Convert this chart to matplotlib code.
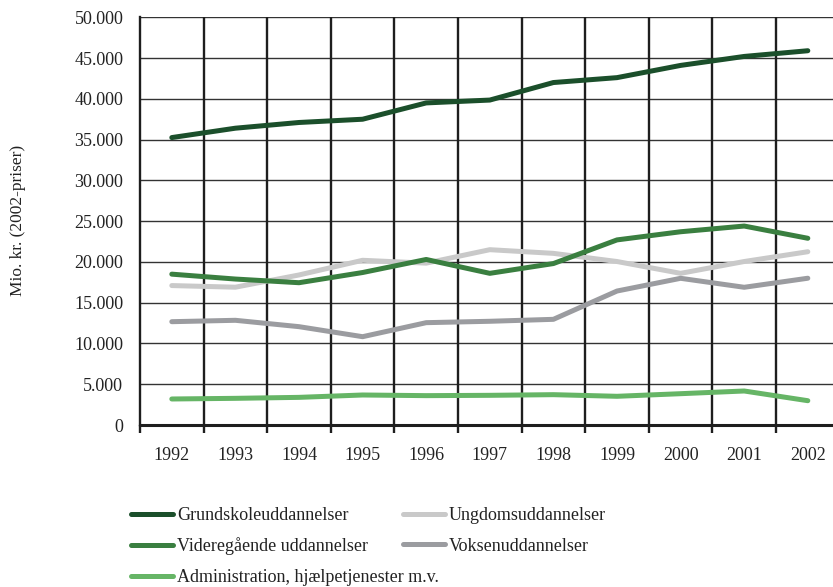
import matplotlib.pyplot as plt
from matplotlib.ticker import FuncFormatter, MultipleLocator

plt.rcParams['font.family'] = ['Liberation Serif', 'DejaVu Serif']

# Data (mio. kr., 2002-priser)
years = ['1992', '1993', '1994', '1995', '1996', '1997', '1998', '1999', '2000', '2001', '2002']
grundskole = [35250, 36400, 37100, 37500, 39500, 39850, 42000, 42600, 44100, 45200, 45900]
videregaaende = [18500, 17900, 17450, 18700, 20300, 18600, 19800, 22700, 23700, 24400, 22900]
ungdom = [17100, 16900, 18400, 20200, 19850, 21500, 21050, 20050, 18600, 20050, 21250]
voksen = [12670, 12840, 12060, 10830, 12550, 12720, 12960, 16430, 17990, 16890, 18000]
administration = [3190, 3270, 3390, 3680, 3600, 3640, 3720, 3520, 3840, 4170, 2980]

series = [
    ('Grundskoleuddannelser', grundskole, '#1b4f2b'),
    ('Videregående uddannelser', videregaaende, '#3a7f40'),
    ('Administration, hjælpetjenester m.v.', administration, '#66b566'),
    ('Ungdomsuddannelser', ungdom, '#c9c9c9'),
    ('Voksenuddannelser', voksen, '#9b9ca0'),
]
draw_order = [3, 4, 1, 2, 0]

fig = plt.figure(figsize=(8.33, 5.87), dpi=100)
ax = fig.add_axes([140 / 833, 1 - 425 / 587, 693 / 833, (425 - 17.3) / 587])

x = list(range(len(years)))
handles = {}
for i in draw_order:
    label, vals, color = series[i]
    line, = ax.plot(x, vals, color=color, lw=3.6, solid_capstyle='round',
                    solid_joinstyle='round', label=label, zorder=3)
    handles[i] = line

ax.set_ylim(0, 50000)
ax.set_xlim(-0.5, 10.396)
ax.yaxis.set_major_locator(MultipleLocator(5000))
ax.yaxis.set_major_formatter(FuncFormatter(lambda v, p: f'{int(v):,}'.replace(',', '.')))
ax.grid(axis='y', color='#333333', lw=1.0, zorder=1)

# category boundaries
for b in range(len(years) - 1):
    ax.axvline(b + 0.5, color='#1e1e1e', lw=1.7, zorder=2)

ax.set_xticks(x)
ax.set_xticklabels(years)
ax.set_xticks([b - 0.5 for b in range(len(years))], minor=True)
ax.tick_params(axis='x', which='major', length=0, pad=16, labelsize=13)
ax.tick_params(axis='x', which='minor', length=6, width=1.7, color='#1e1e1e', direction='out')
ax.tick_params(axis='y', length=0, pad=12, labelsize=13, colors='#222222')
ax.tick_params(axis='x', colors='#222222')

for s in ['top', 'right']:
    ax.spines[s].set_visible(False)
ax.spines['left'].set_linewidth(1.7)
ax.spines['left'].set_color('#1e1e1e')
ax.spines['bottom'].set_linewidth(2.2)
ax.spines['bottom'].set_color('#1e1e1e')

fig.text(18 / 833, 1 - 220 / 587, 'Mio. kr. (2002-priser)', rotation=90,
         ha='center', va='center', fontsize=12.5, color='#222222')

# legend in two separate columns
leg_kw = dict(loc='upper left', frameon=False, fontsize=13, handlelength=2.3,
              handletextpad=0.25, labelspacing=0.75, borderpad=0, borderaxespad=0)
leg1 = fig.legend([handles[i] for i in (0, 1, 2)], [series[i][0] for i in (0, 1, 2)],
                  bbox_to_anchor=(131 / 833, 1 - 507 / 587), **leg_kw)
leg2 = fig.legend([handles[i] for i in (3, 4)], [series[i][0] for i in (3, 4)],
                  bbox_to_anchor=(403 / 833, 1 - 507 / 587), **leg_kw)
for leg in (leg1, leg2):
    for t in leg.get_texts():
        t.set_color('#222222')

fig.savefig('out.png', dpi=100)
